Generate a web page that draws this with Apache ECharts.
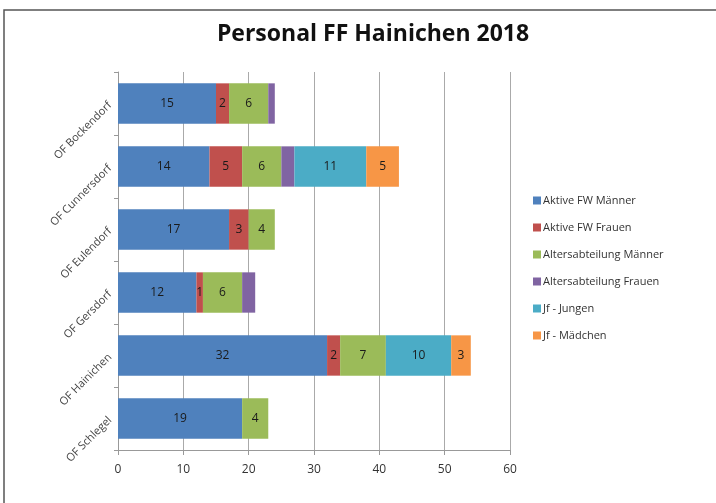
<!DOCTYPE html>
<html>
<head>
<meta charset="utf-8">
<script src="https://cdn.jsdelivr.net/npm/echarts@6/dist/echarts.min.js"></script>
<style>
  html, body { margin: 0; padding: 0; background: #fff; }
  #main { width: 716px; height: 503px; }
</style>
</head>
<body>
<div id="main"></div>
<script>
// Ortsfeuerwehren (von oben nach unten)
var orte = ['OF Bockendorf', 'OF Cunnersdorf', 'OF Eulendorf', 'OF Gersdorf', 'OF Hainichen', 'OF Schlegel'];

var aktiveMaenner = [15, 14, 17, 12, 32, 19];
var aktiveFrauen = [2, 5, 3, 1, 2, 0];
var altersMaenner = [6, 6, 4, 6, 7, 4];
var altersFrauen = [1, 2, 0, 2, 0, 0];
var jfJungen = [0, 11, 0, 0, 10, 0];
var jfMaedchen = [0, 5, 0, 0, 3, 0];

var xTicks = [0, 10, 20, 30, 40, 50, 60];

var myChart = echarts.init(document.getElementById('main'));

function reihe(name, data, color, labelShow) {
    return {
        name: name,
        type: 'bar',
        stack: 'gesamt',
        barCategoryGap: '36%',
        itemStyle: { color: color },
        label: {
            show: labelShow,
            position: 'inside',
            color: '#1a1a1a',
            fontSize: 12,
            fontFamily: 'Open Sans',
            formatter: function (p) { return p.value ? p.value : ''; }
        },
        data: data
    };
}

var option = {
    animation: false,
    title: {
        text: 'Personal FF Hainichen 2018',
        left: 368,
        textAlign: 'center',
        top: 18,
        textStyle: { fontSize: 23, fontWeight: 'bold', color: '#111', fontFamily: 'Open Sans' }
    },
    graphic: [{
        type: 'rect',
        shape: { x: 4, y: 10, width: 720, height: 500 },
        style: { fill: 'none', stroke: '#555', lineWidth: 1.5 }
    }],
    legend: {
        orient: 'vertical',
        left: 528,
        top: 190,
        itemWidth: 8,
        itemHeight: 8,
        itemGap: 16,
        icon: 'rect',
        textStyle: { fontSize: 11, color: '#333', fontFamily: 'Open Sans', padding: [0, 0, 0, -3] },
        data: ['Aktive FW Männer', 'Aktive FW Frauen', 'Altersabteilung Männer', 'Altersabteilung Frauen', 'Jf - Jungen', 'Jf - Mädchen']
    },
    grid: { left: 118, right: 206, top: 72, bottom: 53 },
    xAxis: {
        type: 'value',
        min: xTicks[0],
        max: xTicks[xTicks.length - 1],
        interval: 10,
        axisLine: { show: true, lineStyle: { color: '#999' } },
        axisTick: { show: true, length: 5, lineStyle: { color: '#999' } },
        splitLine: { show: true, lineStyle: { color: '#aaa', width: 1 } },
        axisLabel: { color: '#333', fontSize: 12, margin: 14, fontFamily: 'Open Sans' }
    },
    yAxis: {
        type: 'category',
        inverse: true,
        data: orte,
        axisLine: { show: true, lineStyle: { color: '#999' } },
        axisTick: { show: true, length: 4, lineStyle: { color: '#999' } },
        axisLabel: { color: '#444', fontSize: 11, rotate: 45, margin: 8, fontFamily: 'Open Sans' }
    },
    series: [
        reihe('Aktive FW Männer', aktiveMaenner, '#4F81BD', true),
        reihe('Aktive FW Frauen', aktiveFrauen, '#C0504D', true),
        reihe('Altersabteilung Männer', altersMaenner, '#9BBB59', true),
        reihe('Altersabteilung Frauen', altersFrauen, '#8064A2', false),
        reihe('Jf - Jungen', jfJungen, '#4BACC6', true),
        reihe('Jf - Mädchen', jfMaedchen, '#F79646', true)
    ]
};

myChart.setOption(option, true);
</script>
</body>
</html>
